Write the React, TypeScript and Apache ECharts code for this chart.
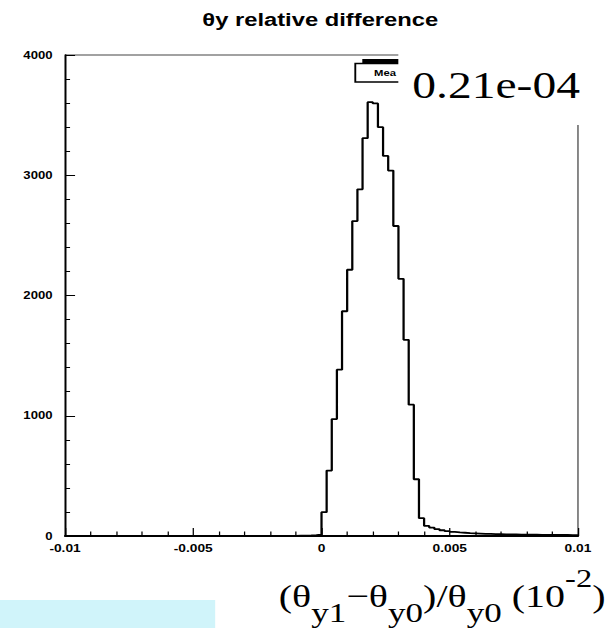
import React, { useEffect, useRef } from "react";
import * as echarts from "echarts";

// ---- data ----
const X_MIN = -0.01;
const X_MAX = 0.01;
const BIN_WIDTH = 0.0002;
const xTickLabels = ["-0.01", "-0.005", "0", "0.005", "0.01"];
const yTickLabels = ["0", "1000", "2000", "3000", "4000"];

// counts for the 100 bins, left to right
const countsNegative = [
  0, 0, 0, 0, 0, 0, 0, 0, 0, 0,
  0, 0, 0, 0, 0, 0, 0, 0, 0, 0,
  0, 0, 0, 0, 0, 0, 0, 0, 0, 0,
  0, 0, 0, 0, 0, 0, 0, 0, 0, 0,
  0, 0, 0, 0, 1, 2, 3, 4, 7, 12,
];
const countsPeak = [
  198, 544, 972, 1383, 1869, 2214, 2619, 2883, 3308, 3608,
  3597, 3400, 3161, 3039, 2578, 2139, 1631, 1092, 472, 148,
];
const countsTail = [
  84, 70, 58, 48, 40, 34, 30, 27, 24, 22,
  20, 18, 17, 16, 15, 14, 14, 13, 12, 12,
  11, 11, 10, 10, 10, 9, 9, 9, 8, 8,
];

const TITLE = "θy relative difference";
const BIG_LABEL = "0.21e-04";
const STATS_LABEL = "Mea";

const FULL_W = 608;
const FULL_H = 628;
const CHART_W = 486;
const SX = FULL_W / CHART_W;

export default function App() {
  const ref = useRef<HTMLDivElement>(null);

  useEffect(() => {
    if (!ref.current) return;
    const chart = echarts.init(ref.current, undefined, { renderer: "svg" });

    const counts = [...countsNegative, ...countsPeak, ...countsTail];
    const pts: number[][] = counts.map((c, i) => [X_MIN + i * BIN_WIDTH, c]);
    pts.push([X_MAX, counts[counts.length - 1]]);

    const axisFont = '"Liberation Sans", Arial, sans-serif';
    const serif = '"Liberation Serif", "Times New Roman", serif';

    chart.setOption({
      animation: false,
      grid: {
        left: 52,
        right: 24,
        top: 55,
        bottom: 92,
        show: true,
        borderColor: "#444",
        borderWidth: 1,
        backgroundColor: "transparent",
      },
      xAxis: {
        type: "value",
        min: X_MIN,
        max: X_MAX,
        interval: 0.005,
        axisLine: { show: true, onZero: false, lineStyle: { color: "#000", width: 1.8 } },
        axisTick: { show: true, inside: true, length: 8, lineStyle: { color: "#000", width: 1 } },
        minorTick: { show: true, splitNumber: 5, length: 4.5, lineStyle: { color: "#000", width: 1 } },
        splitLine: { show: false },
        axisLabel: {
          margin: 7,
          fontFamily: axisFont,
          fontWeight: "bold",
          fontSize: 11,
          color: "#000",
          formatter: (v: number) => {
            const idx = Math.round((v - X_MIN) / 0.005);
            return xTickLabels[idx] ?? String(v);
          },
        },
      },
      yAxis: {
        type: "value",
        min: 0,
        max: 4000,
        interval: 1000,
        axisLine: { show: true, onZero: false, lineStyle: { color: "#000", width: 1.3 } },
        axisTick: { show: true, inside: true, length: 8, lineStyle: { color: "#000", width: 1 } },
        minorTick: { show: true, splitNumber: 5, length: 4, lineStyle: { color: "#000", width: 1 } },
        splitLine: { show: false },
        axisLabel: {
          margin: 10,
          fontFamily: axisFont,
          fontWeight: "bold",
          fontSize: 10.5,
          color: "#000",
          formatter: (v: number) => yTickLabels[Math.round(v / 1000)] ?? String(v),
        },
      },
      series: [
        {
          type: "line",
          step: "end",
          data: pts,
          symbol: "none",
          lineStyle: { color: "#000", width: 1.8 },
          clip: true,
        },
      ],
      graphic: [
        {
          type: "text",
          x: 256,
          y: 20,
          style: {
            text: TITLE,
            font: 'bold 19px "Liberation Sans", Arial, sans-serif',
            fill: "#000",
            align: "center",
            verticalAlign: "middle",
          },
        },
        {
          type: "rect",
          shape: { x: 289.6, y: 59, width: 40, height: 4.5 },
          style: { fill: "#000" },
        },
        {
          type: "rect",
          shape: { x: 284, y: 63.5, width: 50, height: 18.5 },
          style: { fill: "#fff", stroke: "#000", lineWidth: 1.5 },
        },
        {
          type: "text",
          x: 299,
          y: 73,
          style: {
            text: STATS_LABEL,
            font: 'bold 9px "Liberation Sans", Arial, sans-serif',
            fill: "#000",
            align: "left",
            verticalAlign: "middle",
          },
        },
        {
          type: "rect",
          shape: { x: 318.4, y: 38, width: 170, height: 87 },
          style: { fill: "#fff" },
        },
        {
          type: "text",
          x: 329.6,
          y: 85,
          style: {
            text: BIG_LABEL,
            font: '38px "Liberation Serif", "Times New Roman", serif',
            fill: "#000",
            align: "left",
            verticalAlign: "middle",
          },
        },
        {
          type: "rect",
          shape: { x: 0, y: 600, width: 172, height: 28 },
          style: { fill: "#d0f4fa" },
        },
        {
          type: "text",
          x: 484,
          y: 596,
          style: {
            text: "(θ{sub|y1}−θ{sub|y0})/θ{sub|y0} (10{sup|-2})",
            font: '32px "Liberation Serif", "Times New Roman", serif',
            fill: "#000",
            align: "right",
            verticalAlign: "middle",
            rich: {
              sub: {
                fontFamily: serif,
                fontSize: 28,
                padding: [34, 0, 0, 0],
                fill: "#000",
              },
              sup: {
                fontFamily: serif,
                fontSize: 26,
                padding: [0, 0, 36, 0],
                fill: "#000",
              },
            },
          },
        },
      ],
    });

    return () => chart.dispose();
  }, []);

  return (
    <div
      style={{
        position: "fixed",
        left: 0,
        top: 0,
        width: FULL_W,
        height: FULL_H,
        overflow: "hidden",
        background: "#fff",
      }}
    >
      <div
        ref={ref}
        style={{
          width: CHART_W,
          height: FULL_H,
          transform: `scaleX(${SX})`,
          transformOrigin: "0 0",
        }}
      />
    </div>
  );
}
